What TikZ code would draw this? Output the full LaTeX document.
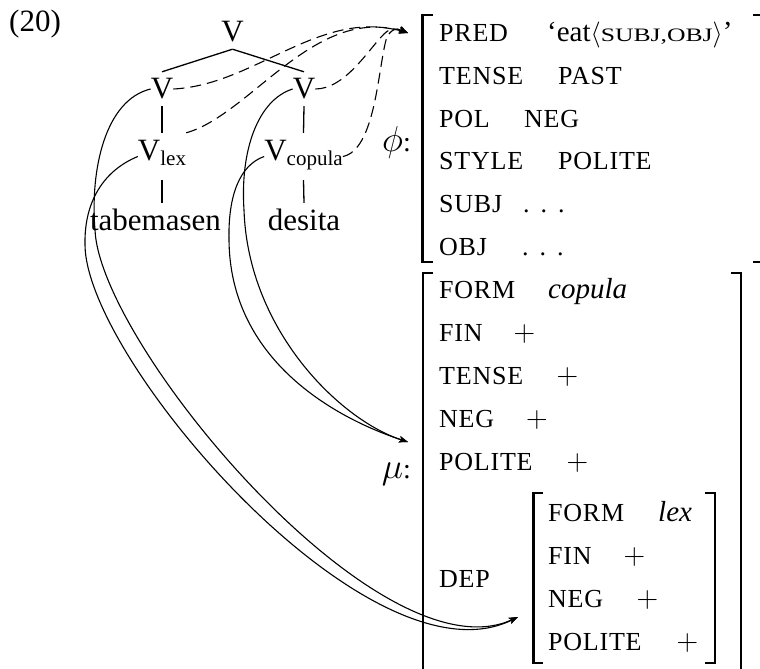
\RequirePackage{fix-cm}
\documentclass[tikz,border=0pt]{standalone}
\usepackage{fontspec}
\setmainfont{Liberation Serif}
\newfontfamily\featfont[LetterSpace=3]{Liberation Serif}
\newfontfamily\scfont[FakeStretch=1.35]{Liberation Serif}
\usetikzlibrary{arrows.meta}
\newcommand\avmdots{.\hspace{11pt}.\hspace{11pt}.}
\begin{document}
\begin{tikzpicture}[x=1pt,y=-1pt,
 tree/.style={font=\fontsize{31}{36}\selectfont, inner xsep=0pt, inner ysep=7pt, text height=20pt, text depth=0pt, anchor=base},
 treesub/.style={tree, text depth=13pt},
 treeline/.style={line width=1.3pt},
 feat/.style={font=\featfont\fontsize{26}{30}\selectfont, anchor=base west, inner sep=0pt},
 val/.style={feat},
 ival/.style={font=\rmfamily\itshape\fontsize{29}{34}\selectfont, anchor=base west, inner sep=0pt},
 plus/.style={font=\fontsize{30}{34}\selectfont, anchor=base west, inner sep=0pt},
 lbl/.style={font=\fontsize{28}{30}\selectfont, anchor=base east, inner sep=0pt},
 brk/.style={line width=2.4pt},
 tipstyle/.style={-{Stealth[length=9pt,width=6.5pt,inset=2pt]}},
 phiarrow/.style={line width=1.1pt, dash pattern=on 11pt off 6pt, tipstyle},
 muarrow/.style={line width=1.1pt, tipstyle},
]
\useasboundingbox[fill=white] (0,0) rectangle (760,669);

% example number
\node[font=\fontsize{31}{36}\selectfont, anchor=base west, inner sep=0pt] (exnum) at (9,32) {(20)};

% tree
\node[tree] (topV) at (232.5,42) {V};
\node[tree] (lV) at (162,99) {V};
\node[tree] (rV) at (304,99) {V};
\node[treesub] (vlex) at (162,160) {V\raisebox{-5pt}{\fontsize{21}{24}\selectfont lex}};
\node[treesub] (vcop) at (303.5,160) {V\raisebox{-5pt}{\fontsize{21}{24}\selectfont copula}};
\node[tree] (tab) at (155.5,230) {tabemasen};
\node[tree] (des) at (304,230) {desita};

\draw[treeline] (topV.south) -- (lV.north);
\draw[treeline] (topV.south) -- (rV.north);
\draw[treeline] (lV.south) -- (vlex.north);
\draw[treeline] (rV.south) -- (vcop.north);
\draw[treeline] (vlex.south) -- (vlex.south |- tab.north);
\draw[treeline] (vcop.south) -- (des.north);

% labels
\node[lbl] (philabel) at (411,151) {{\fontsize{36}{40}\selectfont$\phi$}:};
\node[lbl] (mulabel) at (411,478) {{\fontsize{36}{40}\selectfont$\mu$}:};

% phi f-structure
\draw[brk] (433,15) -- (422.5,15) -- (422.5,262) -- (433,262);
\draw[brk] (753,15) -- (762,15) -- (762,262) -- (753,262);
\node[feat] (pred) at (439,42) {PRED};
\node[val] (predv) at (547,42) {{\rmfamily\fontsize{29}{30}\selectfont ‘eat}$\langle${\scfont\fontsize{19}{22}\selectfont SUBJ,OBJ}$\rangle${\rmfamily\fontsize{29}{30}\selectfont ’}};
\node[feat] (tense) at (439,84.6) {TENSE};
\node[val] (tensev) at (558,84.6) {PAST};
\node[feat] (pol) at (439,127.2) {POL};
\node[val] (polv) at (524,127.2) {NEG};
\node[feat] (style) at (439,169.8) {STYLE};
\node[val] (stylev) at (558,169.8) {POLITE};
\node[feat] (subj) at (439,212.4) {SUBJ};
\node[val] (subjv) at (523,212.4) {\avmdots};
\node[feat] (obj) at (439,255) {OBJ};
\node[val] (objv) at (522,255) {\avmdots};

% mu m-structure
\draw[brk] (433,273) -- (423,273) -- (423,690);
\draw[brk] (731,273) -- (741,273) -- (741,690);
\node[feat] (form) at (439,298) {FORM};
\node[ival] (formv) at (548,298) {copula};
\node[feat] (fin) at (439,341) {FIN};
\node[plus] (finv) at (513.5,341) {$+$};
\node[feat] (mtense) at (439,384) {TENSE};
\node[plus] (mtensev) at (556.5,384) {$+$};
\node[feat] (mneg) at (439,427) {NEG};
\node[plus] (mnegv) at (526,427) {$+$};
\node[feat] (mpol) at (439,470) {POLITE};
\node[plus] (mpolv) at (566.5,470) {$+$};
\node[feat] (dep) at (439,587) {DEP};

% inner DEP structure
\draw[brk] (543,493) -- (533.5,493) -- (533.5,663) -- (543,663);
\draw[brk] (705,493) -- (715,493) -- (715,663) -- (705,663);
\node[feat] (iform) at (548,521) {FORM};
\node[ival] (iformv) at (658,521) {lex};
\node[feat] (ifin) at (548,564) {FIN};
\node[plus] (ifinv) at (623.5,564) {$+$};
\node[feat] (ineg) at (548,607) {NEG};
\node[plus] (inegv) at (636.5,607) {$+$};
\node[feat] (ipol) at (548,650) {POLITE};
\node[plus] (ipolv) at (676.5,650) {$+$};

% arrow targets
\coordinate (phitip) at (408,33);
\coordinate (mutip) at (408,442);
\coordinate (deptip) at (518,617);

% phi projections (dashed)
\draw[phiarrow] (lV.east) .. controls (255,85) and (320,8) .. (phitip);
\draw[phiarrow] (vlex.north east) .. controls (250,115) and (315,5) .. (phitip);
\draw[phiarrow] (rV.east) .. controls (345,89) and (368,50) .. (384,34) .. controls (390,28) and (396,28) .. (phitip);
\draw[phiarrow] (vcop.east) .. controls (375,150) and (378,70) .. (386,40) .. controls (390,28) and (398,28) .. (phitip);

% mu projections (solid)
\draw[muarrow] (lV.west) .. controls (105,100) and (90,170) .. (95,230) .. controls (100,345) and (380,680) .. (deptip);
\draw[muarrow] (vlex.west) .. controls (105,170) and (84,200) .. (85,245) .. controls (86,360) and (370,690) .. (deptip);
\draw[muarrow] (rV.west) .. controls (258,100) and (240,150) .. (244,210) .. controls (248,330) and (340,420) .. (mutip);
\draw[muarrow] (vcop.west) .. controls (240,165) and (228,195) .. (229,240) .. controls (230,360) and (335,418) .. (mutip);
\end{tikzpicture}
\end{document}
